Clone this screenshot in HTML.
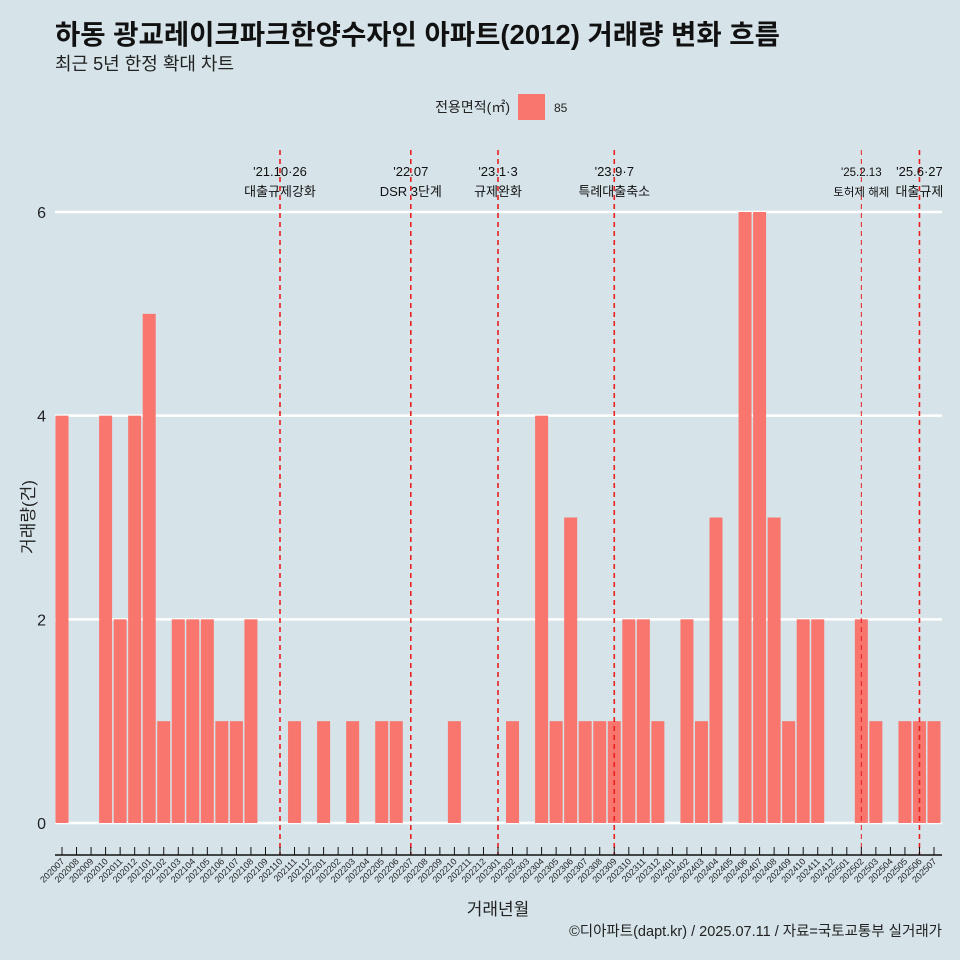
<!DOCTYPE html>
<html><head><meta charset="utf-8"><style>
body{margin:0;background:#d6e4ea;}
svg{display:block;font-family:"Liberation Sans","Noto Sans CJK KR",sans-serif;}
</style></head><body>
<svg width="960" height="960" viewBox="0 0 960 960">
<rect width="960" height="960" fill="#d6e4ea"/>
<text x="55" y="44" font-size="27.5" font-weight="bold" fill="#111">하동 광교레이크파크한양수자인 아파트(2012) 거래량 변화 흐름</text>
<text x="55" y="70" font-size="18" fill="#222">최근 5년 한정 확대 차트</text>
<g>
<text x="510" y="112" font-size="14" text-anchor="end" fill="#222">전용면적(㎡)</text>
<rect x="518" y="94" width="27" height="26" fill="#f8766d"/>
<text x="554" y="112" font-size="12" fill="#222">85</text>
</g>
<g id="grid"></g><g id="bars"></g><g id="events"></g><g id="xaxis"></g>
<text x="0" y="0" font-size="17" fill="#222" transform="translate(34,517) rotate(-90)" text-anchor="middle">거래량(건)</text>
<text x="498" y="915" font-size="17" text-anchor="middle" fill="#222">거래년월</text>
<text x="942" y="936" font-size="14.5" text-anchor="end" fill="#222">©디아파트(dapt.kr) / 2025.07.11 / 자료=국토교통부 실거래가</text>
</svg>
<script>
const months=[];for(let y=2020;y<=2025;y++)for(let m=1;m<=12;m++){const k=y*100+m;if(k>=202007&&k<=202507)months.push(String(k));}
const counts=[4,0,0,4,2,4,5,1,2,2,2,1,1,2,0,0,1,0,1,0,1,0,1,1,0,0,0,1,0,0,0,1,0,4,1,3,1,1,1,2,2,1,0,2,1,3,0,6,6,3,1,2,2,0,0,2,1,0,1,1,1];
const yTicks=[0,2,4,6];
const eventMonths=["202110","202207","202301","202309","202502","202506"];
const eventDates=["'21.10·26","'22.07","'23.1·3","'23.9·7","'25.2.13","'25.6·27"];
const eventTexts=["대출규제강화","DSR 3단계","규제완화","특례대출축소","토허제 해제","대출규제"];
const NS="http://www.w3.org/2000/svg";
const x=i=>62+i*(934-62)/(months.length-1);
const y=v=>823-v*(823-212)/6;
function mk(t,a,p){const e=document.createElementNS(NS,t);for(const k in a)e.setAttribute(k,a[k]);p.appendChild(e);return e;}
const G=document.getElementById('grid');
yTicks.forEach(v=>{
const l=mk('line',{x1:55,x2:942,y1:y(v),y2:y(v),stroke:'#fff','stroke-width':2.5},G);


const t=mk('text',{x:46,y:y(v)+6,'font-size':16,'text-anchor':'end',fill:'#222'},G);t.textContent=v;


});
const B=document.getElementById('bars');
counts.forEach((c,i)=>{if(c<=0)return;
const r=mk('rect',{x:x(i)-6.5,y:y(c),width:13,height:y(0)-y(c),fill:'#f8766d'},B);


});
const E=document.getElementById('events');
eventMonths.forEach((m,j)=>{const i=months.indexOf(m);const thin=m==="202502";
const l=mk('line',{x1:x(i),x2:x(i),y1:150,y2:855,stroke:'#e8201f','stroke-width':thin?1:1.6,'stroke-dasharray':'5,4'},E);


const fs=thin?11.5:13;
const t1=mk('text',{x:x(i),y:176,'font-size':fs,'text-anchor':'middle',fill:'#111'},E);t1.textContent=eventDates[j];


const t2=mk('text',{x:x(i),y:196,'font-size':fs,'text-anchor':'middle',fill:'#111'},E);t2.textContent=eventTexts[j];


});
const X=document.getElementById('xaxis');
const ax=mk('line',{x1:55,x2:942,y1:855,y2:855,stroke:'#111','stroke-width':1.5},X);


months.forEach((m,i)=>{
const tk=mk('line',{x1:x(i),x2:x(i),y1:847,y2:855,stroke:'#111','stroke-width':1},X);


const t=mk('text',{x:x(i)+3,y:862,'font-size':9,'text-anchor':'end',fill:'#222',transform:`rotate(-45 ${x(i)+3} 862)`},X);t.textContent=m;


});
</script>
</body></html>
